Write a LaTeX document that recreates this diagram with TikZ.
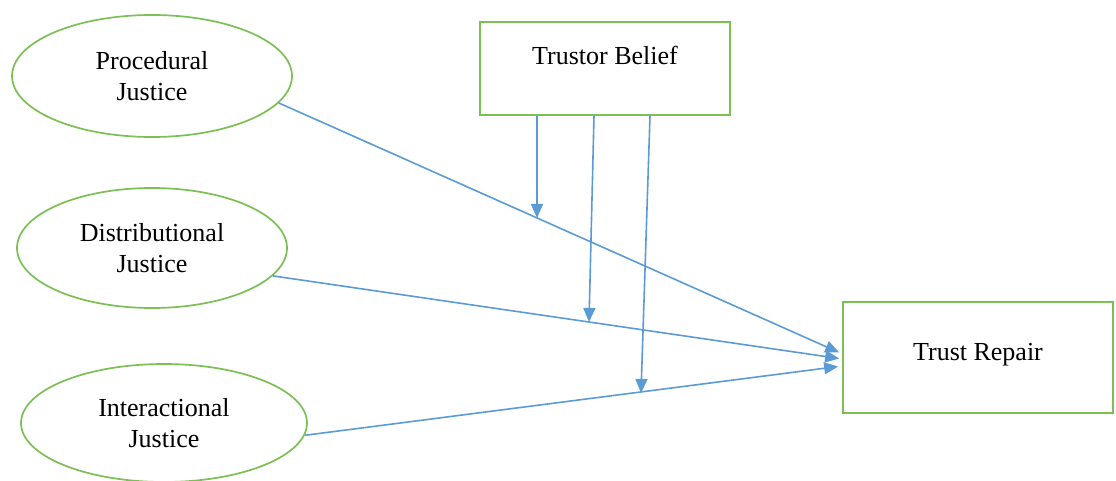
\documentclass[tikz,border=0pt]{standalone}
\usepackage{fontspec}
\setmainfont{Liberation Serif}
\usetikzlibrary{shapes.geometric,arrows.meta}
\definecolor{boxgreen}{HTML}{7CBF55}
\definecolor{arrblue}{HTML}{5B9BD5}
\begin{document}
\begin{tikzpicture}[x=1pt,y=-1pt,
  oval/.style={ellipse,draw=boxgreen,line width=1.7pt,inner sep=0pt,align=center,font=\fontsize{26}{31}\selectfont},
  rbox/.style={rectangle,draw=boxgreen,line width=1.7pt,inner sep=0pt,align=center,font=\fontsize{26}{31}\selectfont},
  link/.style={draw=arrblue,line width=1.6pt,-{Triangle[length=14pt,width=12pt]}}]
\useasboundingbox (0,0) rectangle (1116,481);
\node[oval,minimum width=280pt,minimum height=122pt] (pj) at (152,76) {Procedural\\Justice};
\node[oval,minimum width=270pt,minimum height=120pt] (dj) at (152,248) {Distributional\\Justice};
\node[oval,minimum width=286pt,minimum height=118pt] (ij) at (164,423) {Interactional\\Justice};
\node[rbox,minimum width=250pt,minimum height=93pt,text depth=26pt] (tb) at (605,68.5) {Trustor Belief};
\node[rbox,minimum width=270pt,minimum height=111pt,text depth=12pt] (tr) at (978,357.5) {Trust Repair};
\coordinate (m1) at (537,218);
\coordinate (m2) at (589,322);
\coordinate (m3) at (641,393);
\draw[link] (pj.-12) -- ([xshift=-3pt,yshift=5pt]tr.west);
\draw[link] (dj.-13) -- ([xshift=-3pt,yshift=-1pt]tr.west);
\draw[link] (ij.-5) -- ([xshift=-4pt,yshift=-9pt]tr.west);
\draw[link] ([xshift=-68pt]tb.south) -- (m1);
\draw[link] ([xshift=-11pt]tb.south) -- (m2);
\draw[link] ([xshift=45pt]tb.south) -- (m3);
\end{tikzpicture}
\end{document}
